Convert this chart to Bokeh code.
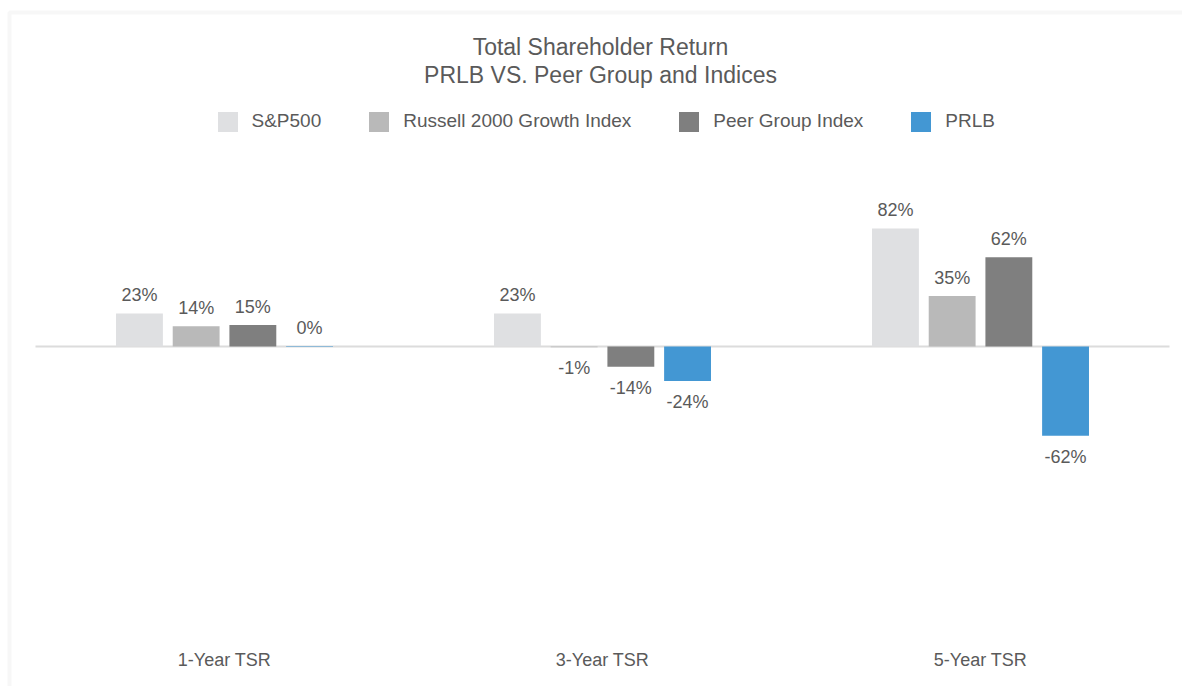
from bokeh.plotting import figure
from bokeh.models import (Range1d, ColumnDataSource, Label, LabelSet, Legend,
                          LegendItem, BoxAnnotation)
from bokeh.transform import dodge
from bokeh.core.properties import value
from bokeh.embed import file_html
from bokeh.resources import INLINE

# ---- data ----
categories = ["1-Year TSR", "3-Year TSR", "5-Year TSR"]
series_names = ["S&P500", "Russell 2000 Growth Index", "Peer Group Index", "PRLB"]
sp500 = [23, 23, 82]
russell2000 = [14, -0.6, 35]
peer_group = [15, -14, 62]
prlb = [0.4, -24, -62]
title_lines = ["Total Shareholder Return", "PRLB VS. Peer Group and Indices"]

series_values = [sp500, russell2000, peer_group, prlb]
colors = ["#dfe0e2", "#b9b9b9", "#7f7f7f", "#4397d3"]
offsets = [-0.225, -0.075, 0.075, 0.225]
FONT = "Liberation Sans"
TXT = "#5a5a5a"

W, H = 1182, 686
idx = list(range(len(categories)))

p = figure(width=W, height=H,
           x_range=Range1d(-0.59259, 2.53439),
           y_range=Range1d(-236.11, 240.28),
           min_border_left=0, min_border_right=0,
           min_border_top=0, min_border_bottom=0,
           toolbar_location=None, output_backend="svg",
           x_axis_location=None, y_axis_location=None,
           outline_line_color=None,
           background_fill_color="white", border_fill_color="white")
p.xgrid.grid_line_color = None
p.ygrid.grid_line_color = None

# zero line spanning the category band
p.segment(x0=[idx[0] - 0.5], x1=[idx[-1] + 0.5], y0=[0], y1=[0],
          line_color="#dcdcdc", line_width=2, level="underlay")

items = []
for name, vals, col, off in zip(series_names, series_values, colors, offsets):
    labels = ["%d%%" % round(v) for v in vals]
    yoff = [-18 if v > 0 else 21 for v in vals]
    src = ColumnDataSource(dict(idx=idx, val=vals, label=labels, yoff=yoff))
    r = p.vbar(x=dodge("idx", off), top="val", width=0.124,
               source=src, fill_color=col, line_color=None)
    p.text(x=dodge("idx", off), y="val", text="label",
           y_offset="yoff", source=src, text_align="center",
           text_baseline="middle", text_font=value(FONT),
           text_font_size="18px", text_color=TXT)
    items.append(LegendItem(label=name, renderers=[r]))

legend = Legend(items=items, location=(214.5, H - 133.5), orientation="horizontal",
                glyph_width=25, glyph_height=25, label_height=25,
                label_standoff=12, spacing=45, padding=0, margin=0,
                border_line_color=None, background_fill_alpha=0,
                label_text_font_size="19px", label_text_color=TXT,
                label_text_font=FONT, label_text_baseline="middle")
p.add_layout(legend, "center")

# category labels (x from the data scale)
cat_src = ColumnDataSource(dict(idx=idx, name=categories))
p.add_layout(LabelSet(x="idx", y=H - 659, y_units="screen", text="name",
                      source=cat_src, text_align="center", text_baseline="middle",
                      text_font=value(FONT), text_font_size="18px",
                      text_color=TXT))

# title
for i, t in enumerate(title_lines):
    p.add_layout(Label(x=600, y=H - 46 - 28 * i, x_units="screen", y_units="screen",
                       text=t, text_align="center", text_baseline="middle",
                       text_font=FONT, text_font_size="23px", text_color=TXT))

# outer frame (top and left edges visible)
p.add_layout(BoxAnnotation(left=9, right=W + 60, top=H - 12, bottom=-60,
                           left_units="screen", right_units="screen",
                           top_units="screen", bottom_units="screen",
                           fill_alpha=0, line_color="#e4e4e4", line_width=4,
                           level="overlay"))

open("out.html", "w").write(file_html(p, INLINE))
